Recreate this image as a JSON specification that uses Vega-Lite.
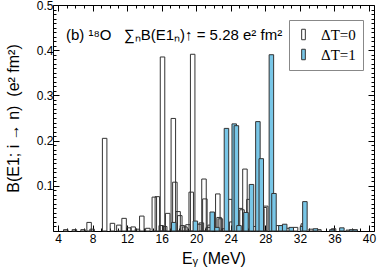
{
  "$schema": "https://vega.github.io/schema/vega-lite/v6.json",
  "autosize": {"type": "none"},
  "padding": {"left": 53, "top": 5, "right": 8, "bottom": 42},
  "width": 321,
  "height": 226,
  "config": {
    "view": {"stroke": "#000", "strokeWidth": 1},
    "font": "Liberation Sans",
    "axis": {"domain": false, "grid": false, "tickColor": "#000", "labelColor": "#000", "titleColor": "#000", "labelFont": "Liberation Sans", "titleFont": "Liberation Sans", "titleFontWeight": "normal"}
  },
  "title": {
    "text": "(b) ¹⁸O\u00a0\u00a0\u00a0∑ₙB(E1ₙ)↑ = 5.28 e² fm²",
    "anchor": "start",
    "frame": "group",
    "baseline": "alphabetic",
    "offset": 0,
    "dx": 13,
    "dy": 56,
    "fontSize": 15,
    "fontWeight": "normal",
    "font": "Liberation Sans",
    "color": "#000"
  },
  "data": {
    "values": [
      {"E": 4.9, "B": 0.003, "T": "ΔT=0"},
      {"E": 5.9, "B": 0.003, "T": "ΔT=0"},
      {"E": 6.9, "B": 0.003, "T": "ΔT=0"},
      {"E": 7.6, "B": 0.019, "T": "ΔT=0"},
      {"E": 7.95, "B": 0.004, "T": "ΔT=0"},
      {"E": 9.4, "B": 0.205, "T": "ΔT=0"},
      {"E": 10.3, "B": 0.017, "T": "ΔT=0"},
      {"E": 11.05, "B": 0.013, "T": "ΔT=0"},
      {"E": 11.65, "B": 0.028, "T": "ΔT=0"},
      {"E": 12.2, "B": 0.007, "T": "ΔT=0"},
      {"E": 12.7, "B": 0.009, "T": "ΔT=0"},
      {"E": 13.2, "B": 0.004, "T": "ΔT=0"},
      {"E": 13.7, "B": 0.033, "T": "ΔT=0"},
      {"E": 14.4, "B": 0.006, "T": "ΔT=0"},
      {"E": 15.15, "B": 0.075, "T": "ΔT=0"},
      {"E": 15.5, "B": 0.076, "T": "ΔT=0"},
      {"E": 15.95, "B": 0.012, "T": "ΔT=0"},
      {"E": 16.1, "B": 0.385, "T": "ΔT=0"},
      {"E": 16.35, "B": 0.01, "T": "ΔT=0"},
      {"E": 16.7, "B": 0.039, "T": "ΔT=0"},
      {"E": 17.35, "B": 0.249, "T": "ΔT=0"},
      {"E": 17.53, "B": 0.108, "T": "ΔT=0"},
      {"E": 17.9, "B": 0.043, "T": "ΔT=0"},
      {"E": 18.1, "B": 0.034, "T": "ΔT=0"},
      {"E": 18.4, "B": 0.012, "T": "ΔT=0"},
      {"E": 18.7, "B": 0.009, "T": "ΔT=0"},
      {"E": 19.05, "B": 0.014, "T": "ΔT=0"},
      {"E": 19.42, "B": 0.086, "T": "ΔT=0"},
      {"E": 19.59, "B": 0.391, "T": "ΔT=0"},
      {"E": 20.3, "B": 0.015, "T": "ΔT=0"},
      {"E": 20.6, "B": 0.018, "T": "ΔT=0"},
      {"E": 20.9, "B": 0.115, "T": "ΔT=0"},
      {"E": 21.0, "B": 0.071, "T": "ΔT=0"},
      {"E": 21.4, "B": 0.008, "T": "ΔT=0"},
      {"E": 21.6, "B": 0.013, "T": "ΔT=0"},
      {"E": 22.5, "B": 0.082, "T": "ΔT=0"},
      {"E": 22.65, "B": 0.03, "T": "ΔT=0"},
      {"E": 22.8, "B": 0.027, "T": "ΔT=0"},
      {"E": 23.2, "B": 0.005, "T": "ΔT=0"},
      {"E": 23.9, "B": 0.07, "T": "ΔT=0"},
      {"E": 24.1, "B": 0.02, "T": "ΔT=0"},
      {"E": 25.1, "B": 0.05, "T": "ΔT=0"},
      {"E": 25.3, "B": 0.047, "T": "ΔT=0"},
      {"E": 25.64, "B": 0.137, "T": "ΔT=0"},
      {"E": 26.1, "B": 0.07, "T": "ΔT=0"},
      {"E": 26.8, "B": 0.01, "T": "ΔT=0"},
      {"E": 27.6, "B": 0.05, "T": "ΔT=0"},
      {"E": 27.9, "B": 0.052, "T": "ΔT=0"},
      {"E": 28.05, "B": 0.055, "T": "ΔT=0"},
      {"E": 29.5, "B": 0.012, "T": "ΔT=0"},
      {"E": 30.0, "B": 0.008, "T": "ΔT=0"},
      {"E": 30.6, "B": 0.006, "T": "ΔT=0"},
      {"E": 31.5, "B": 0.008, "T": "ΔT=0"},
      {"E": 32.4, "B": 0.016, "T": "ΔT=0"},
      {"E": 33.3, "B": 0.004, "T": "ΔT=0"},
      {"E": 34.2, "B": 0.003, "T": "ΔT=0"},
      {"E": 35.9, "B": 0.005, "T": "ΔT=0"},
      {"E": 37.6, "B": 0.002, "T": "ΔT=0"},
      {"E": 17.4, "B": 0.019, "T": "ΔT=1"},
      {"E": 19.9, "B": 0.022, "T": "ΔT=1"},
      {"E": 21.85, "B": 0.042, "T": "ΔT=1"},
      {"E": 22.4, "B": 0.008, "T": "ΔT=1"},
      {"E": 23.5, "B": 0.227, "T": "ΔT=1"},
      {"E": 24.4, "B": 0.237, "T": "ΔT=1"},
      {"E": 24.65, "B": 0.233, "T": "ΔT=1"},
      {"E": 24.95, "B": 0.012, "T": "ΔT=1"},
      {"E": 25.76, "B": 0.041, "T": "ΔT=1"},
      {"E": 26.4, "B": 0.103, "T": "ΔT=1"},
      {"E": 27.14, "B": 0.242, "T": "ΔT=1"},
      {"E": 27.53, "B": 0.16, "T": "ΔT=1"},
      {"E": 28.7, "B": 0.39, "T": "ΔT=1"},
      {"E": 29.0, "B": 0.083, "T": "ΔT=1"},
      {"E": 29.8, "B": 0.012, "T": "ΔT=1"},
      {"E": 30.24, "B": 0.015, "T": "ΔT=1"},
      {"E": 31.0, "B": 0.008, "T": "ΔT=1"},
      {"E": 32.3, "B": 0.01, "T": "ΔT=1"},
      {"E": 32.58, "B": 0.065, "T": "ΔT=1"},
      {"E": 33.8, "B": 0.005, "T": "ΔT=1"},
      {"E": 35.7, "B": 0.003, "T": "ΔT=1"},
      {"E": 36.86, "B": 0.007, "T": "ΔT=1"},
      {"E": 38.0, "B": 0.003, "T": "ΔT=1"},
      {"E": 38.4, "B": 0.003, "T": "ΔT=1"}
    ]
  },
  "resolve": {"scale": {"x": "shared", "y": "shared", "color": "shared"}, "axis": {"x": "independent", "y": "independent"}},
  "layer": [
    {
      "transform": [{"filter": "datum.T == 'ΔT=0'"}],
      "mark": {"type": "bar", "size": 4.5, "stroke": "#333", "strokeWidth": 1, "fillOpacity": 0},
      "encoding": {
        "x": {"field": "E", "type": "quantitative", "scale": {"domain": [4, 40], "nice": false, "zero": false},
          "axis": {"orient": "bottom", "values": [4, 8, 12, 16, 20, 24, 28, 32, 36, 40], "tickSize": -6, "labelPadding": 8, "labelFontSize": 12, "title": "Eᵧ (MeV)", "titleFontSize": 16, "titlePadding": 6}},
        "y": {"field": "B", "type": "quantitative", "scale": {"domain": [0, 0.5], "nice": false},
          "axis": {"orient": "left", "values": [0, 0.1, 0.2, 0.3, 0.4, 0.5], "labelExpr": "datum.value == 0 ? '' : datum.label", "tickSize": -6, "labelPadding": 6, "labelFontSize": 12, "title": "B(E1; i → n)\u00a0\u00a0(e² fm²)", "titleFontSize": 16, "titlePadding": 15}},
        "color": {"field": "T", "type": "nominal", "scale": {"domain": ["ΔT=0", "ΔT=1"], "range": ["#ffffff", "#78c6e7"]},
          "legend": {"title": null, "orient": "none", "legendX": 236, "legendY": 15, "padding": 7, "strokeColor": "#888", "fillColor": "#fff", "labelFont": "Liberation Serif", "labelFontSize": 15, "labelColor": "#000", "symbolType": "M-0.35,-1V1H0.35V-1Z", "symbolSize": 110, "symbolStrokeColor": "#555", "symbolStrokeWidth": 1, "symbolOpacity": 1, "rowPadding": 4, "labelOffset": 10}}
      }
    },
    {
      "transform": [{"filter": "datum.T == 'ΔT=1'"}],
      "mark": {"type": "bar", "size": 4.5, "stroke": "#333", "strokeWidth": 1},
      "encoding": {
        "x": {"field": "E", "type": "quantitative",
          "axis": {"orient": "bottom", "values": [5, 6, 7, 9, 10, 11, 13, 14, 15, 17, 18, 19, 21, 22, 23, 25, 26, 27, 29, 30, 31, 33, 34, 35, 37, 38, 39], "tickSize": -3, "labels": false, "title": null}},
        "y": {"field": "B", "type": "quantitative",
          "axis": {"orient": "left", "values": [0.01, 0.02, 0.03, 0.04, 0.05, 0.06, 0.07, 0.08, 0.09, 0.11, 0.12, 0.13, 0.14, 0.15, 0.16, 0.17, 0.18, 0.19, 0.21, 0.22, 0.23, 0.24, 0.25, 0.26, 0.27, 0.28, 0.29, 0.31, 0.32, 0.33, 0.34, 0.35, 0.36, 0.37, 0.38, 0.39, 0.41, 0.42, 0.43, 0.44, 0.45, 0.46, 0.47, 0.48, 0.49], "tickSize": -3, "labels": false, "title": null}},
        "color": {"field": "T", "type": "nominal"}
      }
    },
    {
      "transform": [{"filter": "datum.T == 'ΔT=1'"}],
      "mark": {"type": "bar", "size": 4.5, "opacity": 0},
      "encoding": {
        "x": {"field": "E", "type": "quantitative",
          "axis": {"orient": "top", "values": [4, 8, 12, 16, 20, 24, 28, 32, 36, 40], "tickSize": -6, "labels": false, "title": null}},
        "y": {"field": "B", "type": "quantitative",
          "axis": {"orient": "right", "values": [0, 0.1, 0.2, 0.3, 0.4, 0.5], "tickSize": -6, "labels": false, "title": null}}
      }
    },
    {
      "transform": [{"filter": "datum.T == 'ΔT=1'"}],
      "mark": {"type": "bar", "size": 4.5, "opacity": 0},
      "encoding": {
        "x": {"field": "E", "type": "quantitative",
          "axis": {"orient": "top", "values": [5, 6, 7, 9, 10, 11, 13, 14, 15, 17, 18, 19, 21, 22, 23, 25, 26, 27, 29, 30, 31, 33, 34, 35, 37, 38, 39], "tickSize": -3, "labels": false, "title": null}},
        "y": {"field": "B", "type": "quantitative",
          "axis": {"orient": "right", "values": [0.01, 0.02, 0.03, 0.04, 0.05, 0.06, 0.07, 0.08, 0.09, 0.11, 0.12, 0.13, 0.14, 0.15, 0.16, 0.17, 0.18, 0.19, 0.21, 0.22, 0.23, 0.24, 0.25, 0.26, 0.27, 0.28, 0.29, 0.31, 0.32, 0.33, 0.34, 0.35, 0.36, 0.37, 0.38, 0.39, 0.41, 0.42, 0.43, 0.44, 0.45, 0.46, 0.47, 0.48, 0.49], "tickSize": -3, "labels": false, "title": null}}
      }
    }
  ]
}
